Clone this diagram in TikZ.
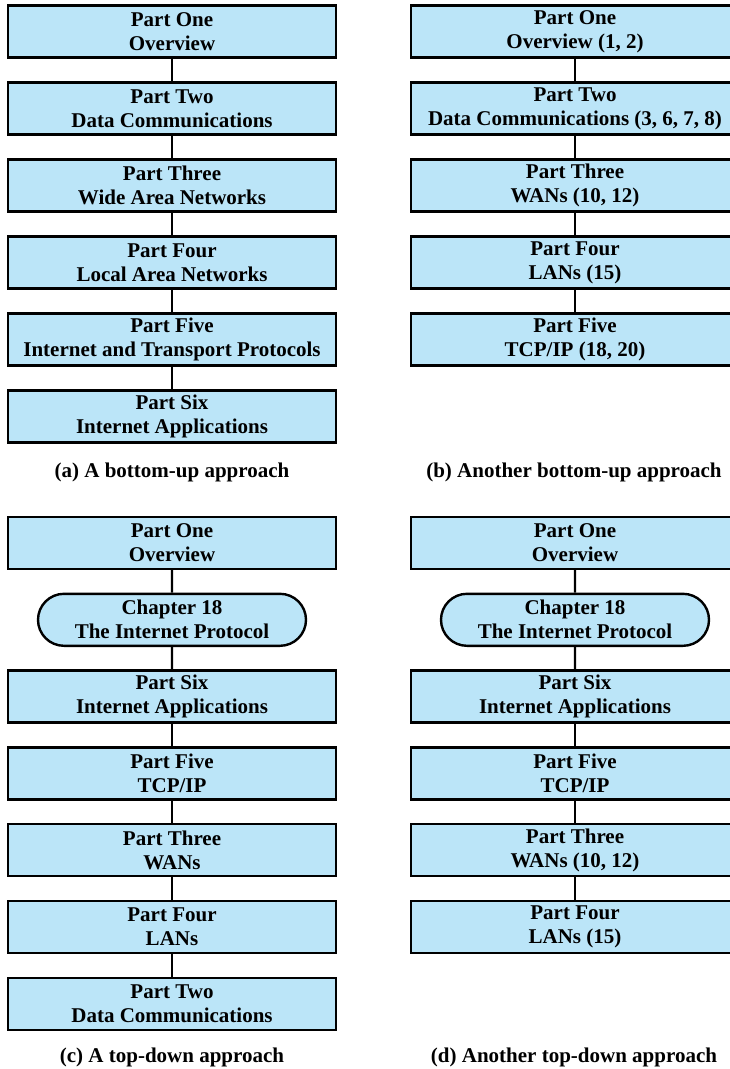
\documentclass[tikz,border=0pt]{standalone}
\usepackage{fontspec}
\setmainfont{Liberation Serif}
\usetikzlibrary{calc,shapes.misc}

\definecolor{partblue}{HTML}{BBE5F8}
\tikzset{
  partbox/.style={draw, fill=partblue, line width=2.4pt, minimum width=328pt,
    minimum height=52pt, inner sep=0pt, align=center,
    font=\bfseries\fontsize{21}{24}\selectfont},
  chapbox/.style={partbox, rounded rectangle, minimum width=268pt},
  link/.style={line width=2.4pt},
  caption/.style={font=\bfseries\fontsize{21}{24}\selectfont}
}

\begin{document}
\begin{tikzpicture}[x=1pt,y=-1pt]
\useasboundingbox (0,0) rectangle (730,1069);
\clip (0,0) rectangle (730,1069);

% (a) bottom-up
\foreach \i/\txt in {1/{Part One\\Overview},
                     2/{Part Two\\Data Communications},
                     3/{Part Three\\Wide Area Networks},
                     4/{Part Four\\Local Area Networks},
                     5/{Part Five\\Internet and Transport Protocols},
                     6/{Part Six\\Internet Applications}}
    \node (a\i) at (172,{31.5+77*(\i-1)}) [partbox] {\txt};
\foreach \i [count=\j from 2] in {1,...,5}
    \draw [link] (a\i) -- (a\j);
\node (capa) at (172,472) [caption] {(a) A bottom-up approach};

% (b) another bottom-up
\foreach \i/\txt in {1/{Part One\\Overview (1, 2)},
                     2/{Part Two\\Data Communications (3, 6, 7, 8)},
                     3/{Part Three\\WANs (10, 12)},
                     4/{Part Four\\LANs (15)},
                     5/{Part Five\\TCP/IP (18, 20)}}
    \node (b\i) at (575,{31.5+77*(\i-1)}) [partbox] {\txt};
\foreach \i [count=\j from 2] in {1,...,4}
    \draw [link] (b\i) -- (b\j);
\node (capb) at (574,472) [caption] {(b) Another bottom-up approach};

% (c) top-down
\foreach \i/\sty/\txt in {1/partbox/{Part One\\Overview},
                          2/chapbox/{Chapter 18\\The Internet Protocol},
                          3/partbox/{Part Six\\Internet Applications},
                          4/partbox/{Part Five\\TCP/IP},
                          5/partbox/{Part Three\\WANs},
                          6/partbox/{Part Four\\LANs},
                          7/partbox/{Part Two\\Data Communications}}
    \node (c\i) at (172,{543+76.8*(\i-1)}) [\sty] {\txt};
\foreach \i [count=\j from 2] in {1,...,6}
    \draw [link] (c\i) -- (c\j);
\node (capc) at (172,1057) [caption] {(c) A top-down approach};

% (d) another top-down
\foreach \i/\sty/\txt in {1/partbox/{Part One\\Overview},
                          2/chapbox/{Chapter 18\\The Internet Protocol},
                          3/partbox/{Part Six\\Internet Applications},
                          4/partbox/{Part Five\\TCP/IP},
                          5/partbox/{Part Three\\WANs (10, 12)},
                          6/partbox/{Part Four\\LANs (15)}}
    \node (d\i) at (575,{543+76.8*(\i-1)}) [\sty] {\txt};
\foreach \i [count=\j from 2] in {1,...,5}
    \draw [link] (d\i) -- (d\j);
\node (capd) at (574,1057) [caption] {(d) Another top-down approach};

\end{tikzpicture}
\end{document}
